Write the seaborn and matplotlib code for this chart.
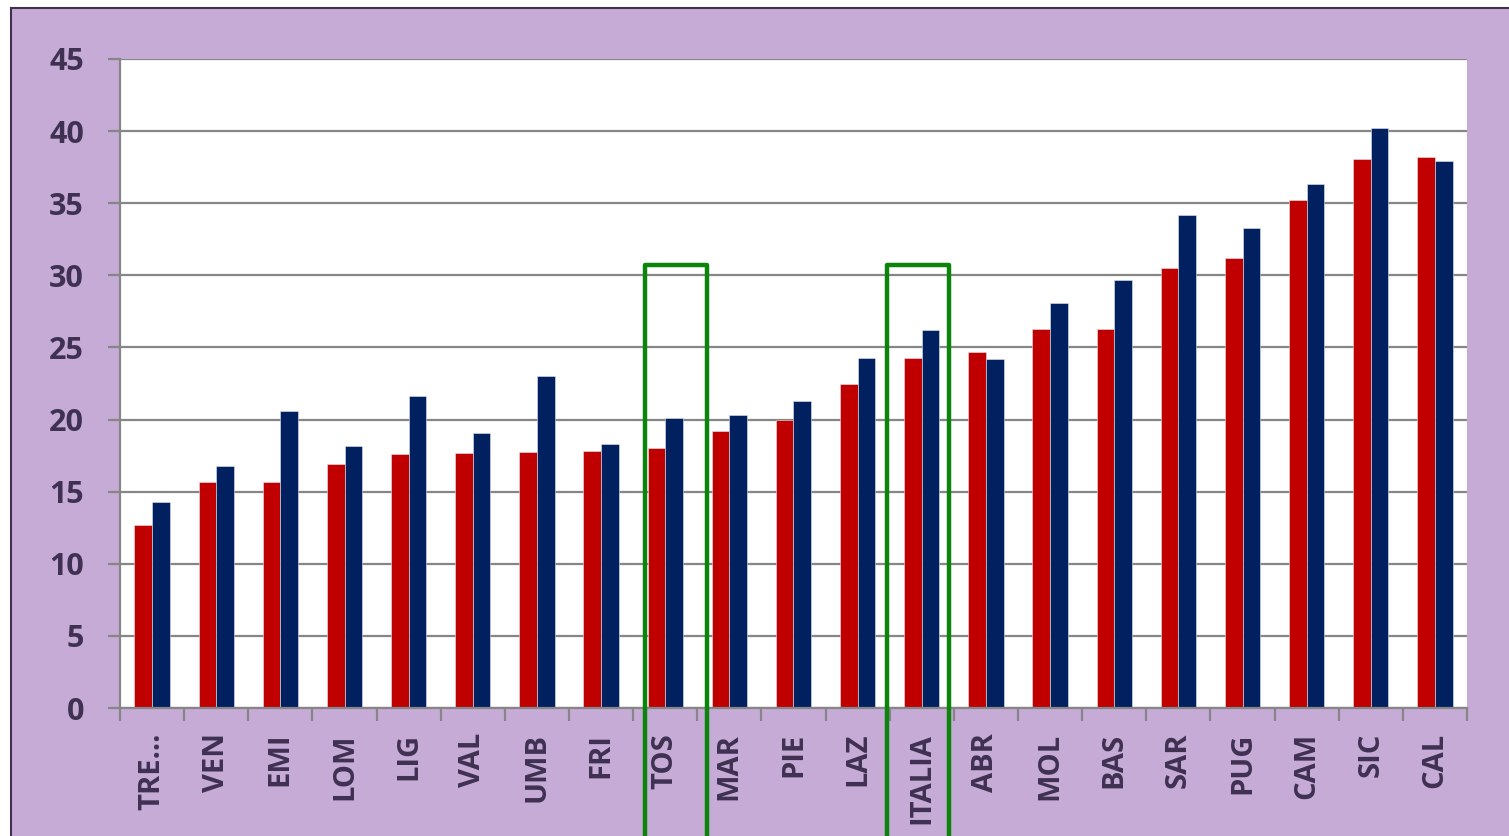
import pandas as pd
import matplotlib
matplotlib.use("Agg")
import matplotlib.pyplot as plt
from matplotlib.patches import Rectangle
import seaborn as sns

# dati
regioni = ['TRE…', 'VEN', 'EMI', 'LOM', 'LIG', 'VAL', 'UMB', 'FRI', 'TOS', 'MAR', 'PIE',
           'LAZ', 'ITALIA', 'ABR', 'MOL', 'BAS', 'SAR', 'PUG', 'CAM', 'SIC', 'CAL']
serie_rossa = [12.7, 15.65, 15.7, 16.95, 17.6, 17.7, 17.75, 17.8, 18.0, 19.2, 20.0,
               22.5, 24.3, 24.7, 26.25, 26.3, 30.5, 31.2, 35.25, 38.05, 38.2]
serie_blu = [14.3, 16.8, 20.6, 18.2, 21.6, 19.1, 23.0, 18.3, 20.1, 20.35, 21.3,
             24.3, 26.2, 24.2, 28.05, 29.7, 34.15, 33.3, 36.3, 40.25, 37.95]
serie_nomi = ['Serie 1', 'Serie 2']
evidenziate = ['TOS', 'ITALIA']
y_ticks = list(range(0, 50, 5))

df = pd.DataFrame({
    'regione': regioni * 2,
    'valore': serie_rossa + serie_blu,
    'serie': [serie_nomi[0]] * len(regioni) + [serie_nomi[1]] * len(regioni),
})

sns.set_theme(style="white")
plt.rcParams['font.family'] = ['Open Sans', 'DejaVu Sans']
plt.rcParams['font.weight'] = 'bold'

testo = '#3F3151'
grigio = '#868686'
viola = '#C5ABD6'

fig = plt.figure(figsize=(15.09, 8.36), dpi=100, facecolor='white')
# sfondo viola con bordo
fig.patches.append(Rectangle((11 / 1509, -0.1), 1.2, 1.1 - 8 / 836, transform=fig.transFigure,
                             facecolor=viola, edgecolor=testo, linewidth=1.5, zorder=-10))
ax = fig.add_axes([120 / 1509, 1 - 708 / 836, (1467 - 120) / 1509, (708 - 59) / 836])
ax.set_facecolor('white')

sns.barplot(data=df, x='regione', y='valore', hue='serie', order=regioni,
            palette=['#C00000', '#002060'], width=0.55, saturation=1,
            edgecolor='#e6e6f0', linewidth=0.4, legend=False, ax=ax)

ax.set_ylim(0, 45)
ax.set_xlim(-0.5, len(regioni) - 0.5)
ax.set_yticks(y_ticks)
ax.yaxis.grid(True, color=grigio, linewidth=1.6)
ax.set_axisbelow(True)
ax.set_xlabel('')
ax.set_ylabel('')

for s in ['top', 'right']:
    ax.spines[s].set_visible(False)
for s in ['left', 'bottom']:
    ax.spines[s].set_color(grigio)
    ax.spines[s].set_linewidth(1.6)

ax.tick_params(axis='y', which='major', left=True, length=9, width=1.6, color=grigio,
               pad=17, labelsize=22, labelcolor=testo)
ax.set_xticks(range(len(regioni)))
ax.set_xticklabels(regioni, rotation=90, fontweight='bold')
ax.set_xticks([i - 0.5 for i in range(len(regioni) + 1)], minor=True)
ax.tick_params(axis='x', which='major', bottom=True, length=0, pad=18, labelsize=21,
               labelcolor=testo)
ax.tick_params(axis='x', which='minor', bottom=True, length=9, width=1.6, color=grigio)
for lab in ax.get_yticklabels():
    lab.set_fontweight('bold')

# riquadri verdi
offset = {'TOS': (-0.315, 0.652), 'ITALIA': (-0.54, 0.42)}
for reg in evidenziate:
    i = regioni.index(reg)
    l, r = i + offset[reg][0], i + offset[reg][1]
    ax.plot([l, l, r, r], [-12, 30.7, 30.7, -12], color='#0A840A', linewidth=3.2,
            solid_joinstyle='round', clip_on=False, zorder=5)

fig.savefig('out.png', dpi=100, facecolor=fig.get_facecolor())
